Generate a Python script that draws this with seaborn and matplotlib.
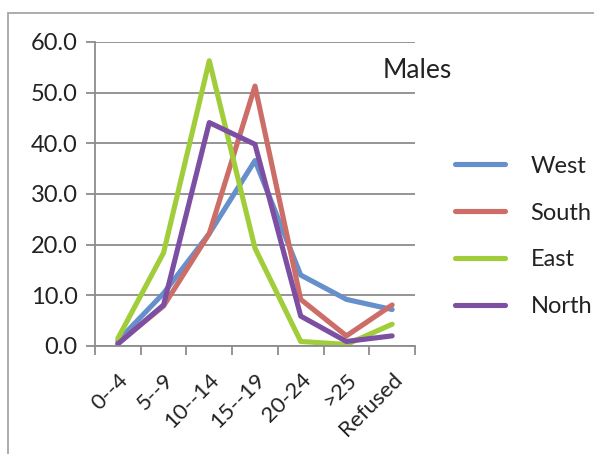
import matplotlib
matplotlib.use("Agg")
import matplotlib.pyplot as plt
import matplotlib.patches as mpatches
import matplotlib.transforms as mtransforms
from matplotlib.lines import Line2D
import seaborn as sns
import pandas as pd

categories = ["0--4", "5--9", "10--14", "15--19", "20-24", ">25", "Refused"]
west = [1.0, 10.4, 22.2, 36.6, 14.0, 9.2, 7.2]
south = [0.5, 7.9, 22.2, 51.3, 9.2, 2.0, 8.1]
east = [1.5, 18.4, 56.3, 19.3, 0.9, 0.3, 4.3]
north = [0.4, 8.1, 44.1, 39.8, 5.9, 0.9, 2.0]
series_names = ["West", "South", "East", "North"]
colors = ["#6690cc", "#cc6d68", "#a2cd3a", "#7d4fa3"]

rows = []
for name, vals in zip(series_names, [west, south, east, north]):
    for i, (c, v) in enumerate(zip(categories, vals)):
        rows.append({"pos": i, "cat": c, "value": v, "series": name})
df = pd.DataFrame(rows)

sns.set_theme(style="white")
plt.rcParams["font.family"] = ["Lato", "DejaVu Sans"]

fig = plt.figure(figsize=(5.94, 4.54), dpi=100)
ax = fig.add_axes([95/594, 1-346/454, 320/594, 304/454])

sns.lineplot(data=df, x="pos", y="value", hue="series", hue_order=series_names,
             palette=colors, linewidth=3.7, ax=ax, legend=False, sort=False)

txt = "#222222"
ax.set_xlim(-0.5, len(categories) - 0.5)
ax.set_ylim(0, 60)
ax.set_yticks(range(0, 61, 10))
ax.set_yticklabels([f"{v:.1f}" for v in range(0, 61, 10)], fontsize=17, color=txt)
ax.yaxis.grid(True, color="#8c8c8c", linewidth=1.3)
ax.set_axisbelow(True)

ax.set_xticks([i - 0.5 for i in range(len(categories) + 1)])
ax.set_xticklabels([])
ax.set_xticks(range(len(categories)), minor=True)
ax.set_xticklabels(categories, minor=True, rotation=45, ha="right", va="top",
                   rotation_mode="anchor", fontsize=16, color=txt)
offset = mtransforms.ScaledTranslation(3/100, 0, fig.dpi_scale_trans)
for lab in ax.get_xticklabels(minor=True):
    lab.set_transform(lab.get_transform() + offset)
ax.tick_params(axis="x", which="major", length=6.5, width=1.3, color="#8c8c8c", direction="out", bottom=True)
ax.tick_params(axis="x", which="minor", length=0, pad=17)
ax.tick_params(axis="y", which="major", length=6.5, width=1.3, color="#8c8c8c", direction="out", left=True, pad=6)
ax.set_xlabel("")
ax.set_ylabel("")

for s in ["top", "right"]:
    ax.spines[s].set_visible(False)
for s in ["left", "bottom"]:
    ax.spines[s].set_color("#8c8c8c")
    ax.spines[s].set_linewidth(1.3)

fig.text(383/594, 1-70/454, "Males", fontsize=19, color=txt, va="center", ha="left")

handles = [Line2D([0], [0], color=c, linewidth=3.7) for c in colors]
leg = fig.legend(handles, series_names, loc="center left", bbox_to_anchor=(455/594, 1-236.5/454),
                 frameon=False, fontsize=17, handlelength=2.1, handletextpad=1.1,
                 labelspacing=1.1, borderaxespad=0, borderpad=0)
for t in leg.get_texts():
    t.set_color(txt)

rect = mpatches.Rectangle((8/594, -0.1), 1.2, 0.1 + (1 - 13/454), transform=fig.transFigure,
                          fill=False, edgecolor="#a6a6a6", linewidth=1.3, clip_on=False)
fig.patches.append(rect)

fig.savefig("out.png", dpi=100)
